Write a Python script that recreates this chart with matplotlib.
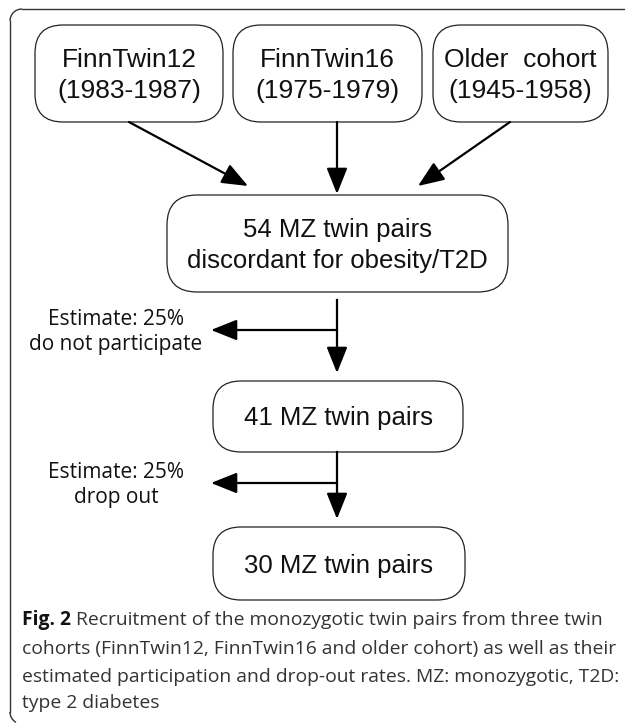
import matplotlib
matplotlib.use("Agg")
import matplotlib.pyplot as plt
from matplotlib.patches import FancyBboxPatch, Arc

# flowchart content
top_labels = ["FinnTwin12\n(1983-1987)", "FinnTwin16\n(1975-1979)", "Older  cohort\n(1945-1958)"]
stage_labels = ["54 MZ twin pairs\ndiscordant for obesity/T2D", "41 MZ twin pairs", "30 MZ twin pairs"]
loss_labels = ["Estimate: 25%\ndo not participate", "Estimate: 25%\ndrop out"]
caption_bold = "Fig. 2"
caption_lines = [" Recruitment of the monozygotic twin pairs from three twin",
                 "cohorts (FinnTwin12, FinnTwin16 and older cohort) as well as their",
                 "estimated participation and drop-out rates. MZ: monozygotic, T2D:",
                 "type 2 diabetes"]

# box geometry in pixels (x0, y0, x1, y1), y from top
top_boxes = [(35, 25, 223, 122), (233, 25, 422, 122), (433, 25, 608, 122)]
stage_boxes = [(167, 195, 508, 292), (213, 381, 463, 452), (213, 527, 465, 600)]

fig = plt.figure(figsize=(6.25, 7.24), dpi=100)
ax = fig.add_axes([0, 0, 1, 1])
ax.set_xlim(0, 625)
ax.set_ylim(724, 0)
ax.axis("off")

box_font = "Liberation Sans"


def rbox(b, r=28):
    x0, y0, x1, y1 = b
    p = FancyBboxPatch((x0 + r, y0 + r), (x1 - x0) - 2 * r, (y1 - y0) - 2 * r,
                       boxstyle="round,pad=%d" % r, fc="white", ec="#222222", lw=0.9)
    ax.add_patch(p)


def arrow(x0, y0, x1, y1):
    ax.annotate("", xy=(x1, y1), xytext=(x0, y0),
                arrowprops=dict(arrowstyle="-|>,head_length=1.0,head_width=0.4",
                                color="black", lw=1.6, mutation_scale=16,
                                shrinkA=0, shrinkB=0))


# outer frame (open on the right)
fc = "#333333"
ax.plot([625, 22], [9, 9], color=fc, lw=1.0)
ax.plot([10, 10], [21, 712], color=fc, lw=1.0)
ax.add_patch(Arc((22, 21), 24, 24, theta1=180, theta2=270, color=fc, lw=1.0))
ax.add_patch(Arc((22, 712), 24, 24, theta1=120, theta2=180, color=fc, lw=1.0))

for b, t in zip(top_boxes, top_labels):
    rbox(b)
    ax.text((b[0] + b[2]) / 2, (b[1] + b[3]) / 2 + 2, t, ha="center", va="center",
            fontsize=19, family=box_font, color="#111111", linespacing=1.42)

for i, (b, t) in enumerate(zip(stage_boxes, stage_labels)):
    rbox(b, r=30 if i == 0 else 28)
    ax.text((b[0] + b[2]) / 2, (b[1] + b[3]) / 2 + 2, t, ha="center", va="center",
            fontsize=18.5, family=box_font, color="#111111", linespacing=1.35)

# arrows into the combined box
arrow(129, 122, 248, 186)
arrow(337, 122, 337, 194)
arrow(510, 122, 418, 186)

# side branches
branch_y = [330, 483]
for i, (yb, lab) in enumerate(zip(branch_y, loss_labels)):
    ytop = stage_boxes[i][3] + (8 if i == 0 else 0)
    ax.plot([337, 337], [ytop, yb], color="black", lw=1.6)
    arrow(337, yb, 337, stage_boxes[i + 1][1] - 8)
    arrow(337, yb, 211, yb)
    ax.text(116, yb + 2, lab, ha="center", va="center", fontsize=15,
            family="Open Sans", color="#111111", linespacing=1.3)

# caption
cap_y = [620, 649, 677, 703]
csize = 13.9
t = ax.text(22, cap_y[0], caption_bold, fontsize=csize, family="Open Sans",
            weight="bold", va="center", ha="left", color="#111111")
fig.canvas.draw()
bb = t.get_window_extent()
ax.text(bb.x1, 724 - cap_y[0], caption_lines[0], fontsize=csize, family="Open Sans",
        va="center", ha="left", color="#333333", transform=None)
for y, line in zip(cap_y[1:], caption_lines[1:]):
    ax.text(22, y, line, fontsize=csize, family="Open Sans", va="center", ha="left",
            color="#333333")

fig.savefig("out.png", dpi=100)
